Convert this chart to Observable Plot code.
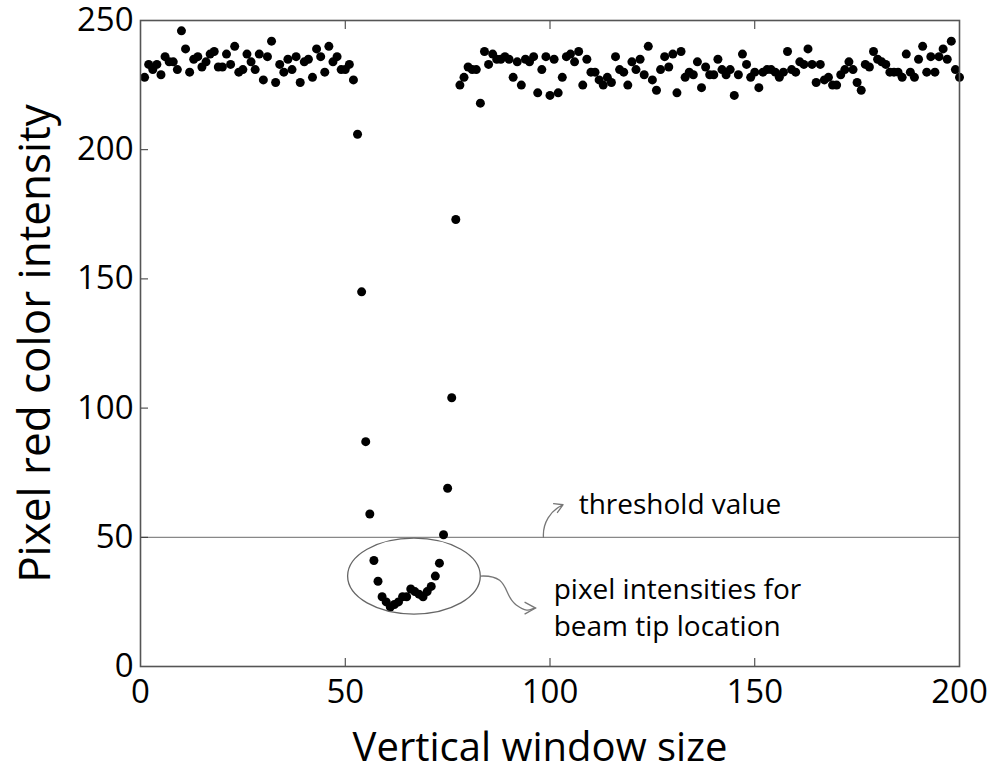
<!DOCTYPE html>
<html>
<head>
<meta charset="utf-8">
<script src="https://cdn.jsdelivr.net/npm/d3@7"></script>
<script src="https://cdn.jsdelivr.net/npm/@observablehq/plot@0.6"></script>
<style>
  html, body { margin: 0; padding: 0; background: #fff; }
  #chart svg { display: block; }
</style>
</head>
<body>
<div id="chart"></div>
<script>
// Pixel index along the vertical window (1..200)
const intensities = [
  228, 233, 231, 233, 229, 236, 234, 234, 231, 246,
  239, 230, 235, 236, 232, 234, 237, 238, 232, 232,
  237, 233, 240, 230, 231, 237, 234, 231, 237, 227,
  236, 242, 226, 233, 230, 235, 231, 236, 226, 234,
  235, 228, 239, 236, 230, 240, 234, 236, 231, 231,
  233, 227, 206, 145, 87, 59, 41, 33, 27, 25,
  23, 24, 25, 27, 27, 30, 29, 28, 27, 29,
  31, 35, 40, 51, 69, 104, 173, 225, 228, 232,
  231, 231, 218, 238, 233, 237, 235, 235, 236, 235,
  228, 234, 225, 235, 234, 236, 222, 231, 236, 221,
  235, 222, 228, 236, 237, 234, 238, 225, 235, 230,
  230, 227, 225, 228, 226, 236, 231, 230, 225, 234,
  231, 235, 229, 240, 227, 223, 231, 236, 232, 237,
  222, 238, 228, 230, 229, 234, 224, 232, 229, 229,
  235, 231, 229, 231, 221, 229, 237, 233, 228, 230,
  224, 230, 231, 231, 230, 228, 230, 238, 231, 230,
  234, 233, 239, 233, 226, 233, 227, 228, 225, 225,
  229, 231, 234, 231, 226, 223, 233, 232, 238, 235,
  234, 233, 230, 230, 230, 228, 237, 230, 228, 235,
  240, 230, 236, 230, 236, 239, 235, 242, 231, 228
];
const xTicks = [0, 50, 100, 150, 200];
const yTicks = [0, 50, 100, 150, 200, 250];
const threshold = [50];
const xTitle = "Vertical window size";
const yTitle = "Pixel red color intensity";
const labels = [
  {x: 107.0, y: 62.3, text: "threshold value"},
  {x: 100.9, y: 29.4, text: "pixel intensities for"},
  {x: 100.9, y: 15.2, text: "beam tip location"}
];
const thresholdArrow = [{x1: 98.4, y1: 50, x2: 103.2, y2: 62.6}];
const ellipseSpec = {cx: 66.9, cy: 34.8, rx: 16.2, ry: 14.7};
const connectorEnd = {x: 96.6, y: 22.4};

const points = intensities.map((v, i) => ({x: i + 1, y: v}));
const FONT = "'Open Sans', 'DejaVu Sans', sans-serif";

function ellipseMark(index, scales) {
  const {x, y} = scales;
  const g = document.createElementNS("http://www.w3.org/2000/svg", "g");
  const e = document.createElementNS("http://www.w3.org/2000/svg", "ellipse");
  const cx = x(ellipseSpec.cx), cy = y(ellipseSpec.cy);
  const rx = Math.abs(x(ellipseSpec.cx + ellipseSpec.rx) - cx);
  const ry = Math.abs(y(ellipseSpec.cy + ellipseSpec.ry) - cy);
  e.setAttribute("cx", cx); e.setAttribute("cy", cy);
  e.setAttribute("rx", rx); e.setAttribute("ry", ry);
  e.setAttribute("fill", "none"); e.setAttribute("stroke", "#666"); e.setAttribute("stroke-width", 1.3);
  g.appendChild(e);
  // wavy connector from ellipse's right side to the label
  const x0 = cx + rx, y0 = cy;
  const x1 = x(connectorEnd.x), y1 = y(connectorEnd.y);
  const dx = x1 - x0, dy = y1 - y0;
  const p = document.createElementNS("http://www.w3.org/2000/svg", "path");
  p.setAttribute("d",
    `M${x0},${y0} C${x0 + dx * 0.55},${y0 - dy * 0.05} ${x0 + dx * 0.4},${y0 + dy * 0.6} ${x0 + dx * 0.65},${y0 + dy * 0.9} S${x1 - dx * 0.1},${y1} ${x1},${y1}`);
  p.setAttribute("fill", "none"); p.setAttribute("stroke", "#777"); p.setAttribute("stroke-width", 1.3);
  g.appendChild(p);
  const h = document.createElementNS("http://www.w3.org/2000/svg", "path");
  h.setAttribute("d", `M${x1 - 11},${y1 - 6} L${x1},${y1} L${x1 - 11},${y1 + 6}`);
  h.setAttribute("fill", "none"); h.setAttribute("stroke", "#777"); h.setAttribute("stroke-width", 1.3);
  g.appendChild(h);
  return g;
}

const chart = Plot.plot({
  width: 992,
  height: 771,
  marginLeft: 140,
  marginRight: 33,
  marginTop: 20,
  marginBottom: 105,
  style: {fontFamily: FONT, background: "#fff"},
  x: {domain: [0, 200]},
  y: {domain: [0, 250]},
  marks: [
    Plot.ruleY(threshold, {stroke: "#888", strokeWidth: 1.3}),
    Plot.dot(points, {x: "x", y: "y", r: 4.5, fill: "#000", stroke: "none"}),
    ellipseMark,
    Plot.arrow(thresholdArrow, {x1: "x1", y1: "y1", x2: "x2", y2: "y2", bend: 35, stroke: "#777", strokeWidth: 1.3, headLength: 11}),
    Plot.text(labels, {x: "x", y: "y", text: "text", textAnchor: "start", fontSize: 28, fill: "#000", lineAnchor: "middle"}),
    // inward ticks on all sides
    Plot.axisX(xTicks, {anchor: "bottom", tickSize: -8, tickFormat: () => "", stroke: "#333", label: null}),
    Plot.axisX(xTicks, {anchor: "top", tickSize: -8, tickFormat: () => "", stroke: "#333", label: null}),
    Plot.axisY(yTicks, {anchor: "left", tickSize: -8, tickFormat: () => "", stroke: "#333", label: null}),
    // tick labels
    Plot.axisX(xTicks, {anchor: "bottom", tickSize: 0, tickPadding: 13, fontSize: 33, fill: "#000", label: null}),
    Plot.axisY(yTicks, {anchor: "left", tickSize: 0, tickPadding: 7, fontSize: 33, fill: "#000", label: null}),
    Plot.frame({stroke: "#555", strokeWidth: 1.6}),
    Plot.text([xTitle], {frameAnchor: "bottom", text: d => d, dy: 94, dx: -10, fontSize: 40, fill: "#000"}),
    Plot.text([yTitle], {frameAnchor: "left", text: d => d, dx: -105, rotate: -90, textAnchor: "middle", fontSize: 44, fill: "#000"})
  ]
});
document.getElementById("chart").appendChild(chart);
</script>
</body>
</html>
